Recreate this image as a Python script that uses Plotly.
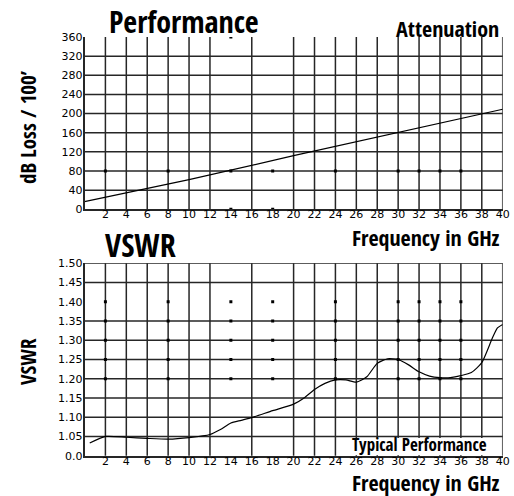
import plotly.graph_objects as go

# ---- data ----
att_freq = [0, 10, 20, 30, 40]
att_loss = [16, 62, 112, 160, 209]

vswr_freq = [0.5, 2, 4, 6, 8, 10, 12, 13, 14, 15, 16, 18, 20, 21, 22, 23, 24, 25, 26, 27, 28, 29, 30, 31, 32, 33, 34, 35, 36, 37, 38, 39, 39.5, 40]
vswr_vals = [1.033, 1.050, 1.048, 1.045, 1.043, 1.047, 1.055, 1.068, 1.085, 1.092, 1.099, 1.117, 1.134, 1.150, 1.172, 1.188, 1.197, 1.197, 1.191, 1.205, 1.240, 1.252, 1.250, 1.236, 1.218, 1.207, 1.203, 1.203, 1.208, 1.216, 1.242, 1.305, 1.332, 1.341]

x_ticks = list(range(2, 41, 2))
x_labels = [str(v) for v in x_ticks]
x_grid = [2, 4, 6, 8, 10, 12, 16, 20, 22, 24, 26, 28, 30, 32, 34, 36, 38, 40]

att_ticks = [0, 40, 80, 120, 160, 200, 240, 280, 320, 360]
att_grid = [40, 80, 120, 160, 200, 240, 280, 320]

vswr_ticks = [1.00, 1.05, 1.10, 1.15, 1.20, 1.25, 1.30, 1.35, 1.40, 1.45, 1.50]
vswr_labels = ["0.0", "1.05", "1.10", "1.15", "1.20", "1.25", "1.30", "1.35", "1.40", "1.45", "1.50"]
vswr_grid = [1.05, 1.10, 1.15, 1.20, 1.25, 1.30, 1.35, 1.45, 1.50]

dot_cols = [2, 8, 14, 18, 24, 30, 32, 34, 36]
vswr_dot_rows = [1.20, 1.25, 1.30, 1.35, 1.40]
att_dot_x = dot_cols + [14, 18, 14]
att_dot_y = [80] * len(dot_cols) + [0, 0, 360]

# ---- styling ----
W, H = 514, 496
HEAD = "Open Sans Condensed, Roboto Condensed, DejaVu Sans Condensed, sans-serif"
TICKF = dict(family="DejaVu Sans", size=11, color="black")
GRID = dict(color="#262626", width=1.5)

def px_x(p):
    return p / W

def px_y(p):
    return 1 - p / H

fig = go.Figure()

fig.add_trace(go.Scatter(x=att_freq, y=att_loss, mode="lines",
                         line=dict(color="black", width=1.2),
                         xaxis="x", yaxis="y", showlegend=False, hoverinfo="skip"))
fig.add_trace(go.Scatter(x=att_dot_x, y=att_dot_y, mode="markers",
                         marker=dict(color="black", size=3, symbol="square"),
                         xaxis="x", yaxis="y", showlegend=False, hoverinfo="skip"))

vx, vy = [], []
for c in dot_cols:
    for r in vswr_dot_rows:
        vx.append(c)
        vy.append(r)
fig.add_trace(go.Scatter(x=vx, y=vy, mode="markers",
                         marker=dict(color="black", size=3, symbol="square"),
                         xaxis="x2", yaxis="y2", showlegend=False, hoverinfo="skip"))
fig.add_trace(go.Scatter(x=vswr_freq, y=vswr_vals, mode="lines",
                         line=dict(color="black", width=1.2, shape="spline", smoothing=0.6),
                         xaxis="x2", yaxis="y2", showlegend=False, hoverinfo="skip"))

xdom = [84.5 / W, 502.7 / W]
top_dom = [px_y(209.3), px_y(37)]
bot_dom = [px_y(455.7), px_y(263.3)]

common_x = dict(range=[0, 40], tickmode="array", tickvals=x_ticks, ticktext=x_labels,
                showgrid=False, zeroline=False, showline=True, linecolor="#262626",
                linewidth=1.5, ticks="", tickfont=TICKF, domain=xdom, fixedrange=True,
                ticklabelstandoff=-6, automargin=False)
common_y = dict(tickmode="array", showgrid=False, zeroline=False, showline=True,
                linecolor="#262626", linewidth=1.5, ticks="", tickfont=TICKF,
                ticklabelstandoff=-2, automargin=False, fixedrange=True)

fig.update_layout(
    width=W, height=H,
    margin=dict(l=0, r=0, t=0, b=0, autoexpand=False),
    paper_bgcolor="white", plot_bgcolor="white",
    xaxis=dict(anchor="y", **common_x),
    xaxis2=dict(anchor="y2", **common_x),
    yaxis=dict(anchor="x", domain=top_dom, range=[0, 360], tickvals=att_ticks,
               ticktext=[str(v) for v in att_ticks], **common_y),
    yaxis2=dict(anchor="x2", domain=bot_dom, range=[1.0, 1.5], tickvals=vswr_ticks,
                ticktext=vswr_labels, **common_y),
)

# grid lines drawn from the grid lists through the axes' scales
for gx in x_grid:
    fig.add_shape(type="line", xref="x", yref="y domain", x0=gx, x1=gx, y0=0, y1=1,
                  line=GRID, layer="below")
    fig.add_shape(type="line", xref="x2", yref="y2 domain", x0=gx, x1=gx, y0=0, y1=1,
                  line=GRID, layer="below")
for gy in att_grid:
    fig.add_shape(type="line", xref="x domain", yref="y", x0=0, x1=1, y0=gy, y1=gy,
                  line=GRID, layer="below")
for gy in vswr_grid:
    fig.add_shape(type="line", xref="x2 domain", yref="y2", x0=0, x1=1, y0=gy, y1=gy,
                  line=GRID, layer="below")

# white panel behind "Typical Performance"
fig.add_shape(type="rect", xref="x2", yref="y2", x0=24.4, x1=39.85, y0=1.002, y1=1.046,
              fillcolor="white", line=dict(width=0), layer="above")

def head(text, x, y, size, xanchor="center", angle=0):
    fig.add_annotation(text="<b>%s</b>" % text, x=x, y=y, xref="paper", yref="paper",
                       xanchor=xanchor, yanchor="middle", showarrow=False, textangle=angle,
                       font=dict(family=HEAD, size=size, color="black"))

head("Performance", px_x(184), px_y(21), 30)
head("Attenuation", px_x(447), px_y(28), 22)
head("dB Loss / 100’", px_x(28), px_y(127), 21, angle=-90)
head("VSWR", px_x(140), px_y(245), 32)
head("Frequency in GHz", px_x(502), px_y(237), 22, xanchor="right")
head("VSWR", px_x(28), px_y(362), 21, angle=-90)
head("Typical Performance", px_x(419), px_y(444), 17)
head("Frequency in GHz", px_x(502), px_y(482), 22, xanchor="right")

fig.write_html("out.html", config={"displayModeBar": False},
               post_script="document.body.style.margin='0';")
